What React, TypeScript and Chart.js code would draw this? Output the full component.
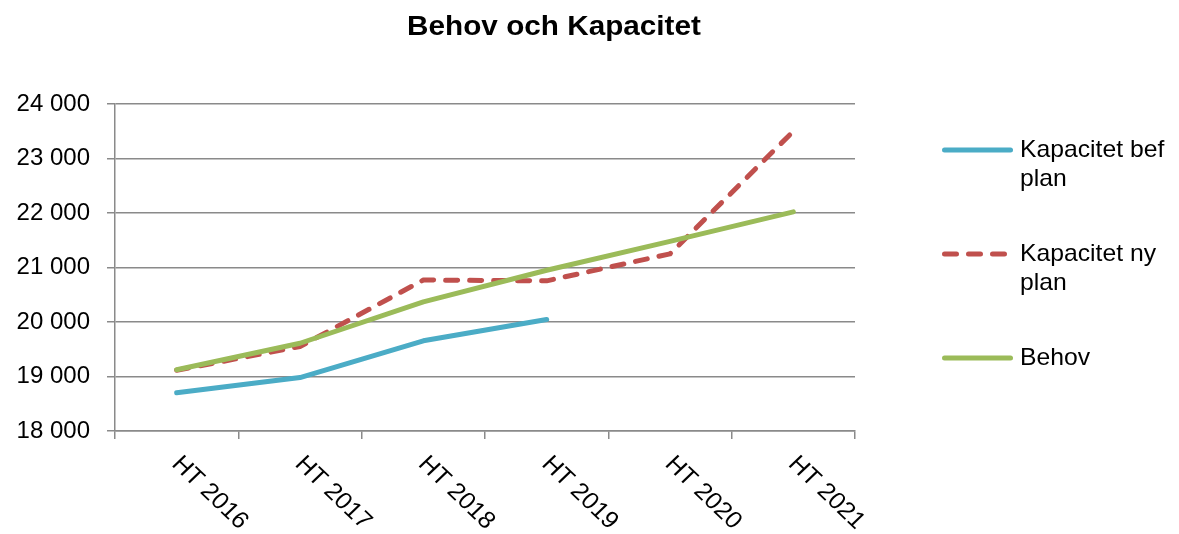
import React, { useEffect, useRef } from "react";
import { Chart, registerables } from "chart.js";

Chart.register(...registerables);

const chartTitle = "Behov och Kapacitet";
const categories = ["HT 2016", "HT 2017", "HT 2018", "HT 2019", "HT 2020", "HT 2021"];
const kapacitetBefPlan = [18700, 18980, 19655, 20045, null, null];
const kapacitetNyPlan = [19115, 19550, 20770, 20755, 21250, 23500];
const behov = [19125, 19610, 20370, 20950, 21480, 22020];
const seriesLabels = [["Kapacitet bef", "plan"], ["Kapacitet ny", "plan"], ["Behov"]];
const seriesColors = ["#4BACC6", "#C0504D", "#9BBB59"];
const yMin = 18000;
const yMax = 24000;
const yStep = 1000;

const FONT = '"Liberation Sans", Arial, Helvetica, sans-serif';
const GRID = "#8a8a8a";

const formatNum = (v: number) => String(v).replace(/\B(?=(\d{3})+(?!\d))/g, " ");

const textPlugin = {
  id: "customText",
  afterDraw(chart: any) {
    const ctx = chart.ctx as CanvasRenderingContext2D;
    const area = chart.chartArea;
    // Title
    ctx.save();
    ctx.fillStyle = "#000";
    ctx.translate(554, 35);
    ctx.scale(1.1, 1);
    ctx.font = `bold 27px ${FONT}`;
    ctx.textAlign = "center";
    ctx.textBaseline = "alphabetic";
    ctx.fillText(chartTitle, 0, 0);
    ctx.restore();

    // X labels (rotated)
    const xs = chart.scales.x;
    categories.forEach((c, i) => {
      const px = xs.getPixelForValue(i);
      ctx.save();
      ctx.fillStyle = "#000";
      ctx.translate(px - 6, area.bottom + 34);
      ctx.scale(1.05, 1);
      ctx.rotate(Math.PI / 4);
      ctx.font = `24px ${FONT}`;
      ctx.textAlign = "left";
      ctx.textBaseline = "alphabetic";
      ctx.fillText(c, 0, 0);
      ctx.restore();
    });

    // Legend
    chart.data.datasets.forEach((ds: any, i: number) => {
      const y = 150 + i * 104;
      ctx.save();
      ctx.strokeStyle = ds.borderColor;
      ctx.lineWidth = 5;
      ctx.lineCap = "round";
      if (ds.borderDash && ds.borderDash.length) ctx.setLineDash(ds.borderDash);
      ctx.beginPath();
      ctx.moveTo(944.5, y);
      ctx.lineTo(1010.5, y);
      ctx.stroke();
      ctx.restore();
      const lines = seriesLabels[i];
      lines.forEach((t, j) => {
        ctx.save();
        ctx.fillStyle = "#000";
        ctx.translate(1020, y + 7 + j * 28.5);
        ctx.scale(1.03, 1);
        ctx.font = `24px ${FONT}`;
        ctx.textAlign = "left";
        ctx.textBaseline = "alphabetic";
        ctx.fillText(t, 0, 0);
        ctx.restore();
      });
    });
  },
};

export default function App() {
  const ref = useRef<HTMLCanvasElement | null>(null);
  useEffect(() => {
    if (!ref.current) return;
    const lineBase = {
      borderWidth: 5,
      pointRadius: 0,
      pointHoverRadius: 0,
      tension: 0,
      fill: false,
      borderCapStyle: "round",
      borderJoinStyle: "round",
      spanGaps: false,
    };
    const chart = new Chart(ref.current, {
      type: "line",
      data: {
        labels: categories,
        datasets: [
          { ...lineBase, label: seriesLabels[0].join(" "), data: kapacitetBefPlan, borderColor: seriesColors[0], backgroundColor: seriesColors[0], order: 2 },
          { ...lineBase, label: seriesLabels[1].join(" "), data: kapacitetNyPlan, borderColor: seriesColors[1], backgroundColor: seriesColors[1], borderDash: [12, 12], borderCapStyle: "round", order: 1 },
          { ...lineBase, label: seriesLabels[2].join(" "), data: behov, borderColor: seriesColors[2], backgroundColor: seriesColors[2], order: 0 },
        ] as any,
      },
      options: {
        responsive: false,
        animation: false,
        events: [],
        layout: { padding: { left: 0, right: 324, top: 104, bottom: 0 } },
        plugins: { legend: { display: false }, title: { display: false }, tooltip: { enabled: false } },
        scales: {
          x: {
            type: "category",
            offset: true,
            grid: { display: true, drawOnChartArea: false, drawTicks: true, tickLength: 8, color: GRID, lineWidth: 1.5, offset: true },
            border: { display: true, color: GRID, width: 1.5 },
            ticks: { display: false },
            afterFit: (s: any) => { s.height = 103; },
          },
          y: {
            min: yMin,
            max: yMax,
            grid: { display: true, drawOnChartArea: true, drawTicks: true, tickLength: 8, color: GRID, lineWidth: 1.5 },
            border: { display: true, color: GRID, width: 1.5 },
            ticks: {
              stepSize: yStep,
              padding: 17,
              color: "#000",
              font: { family: FONT, size: 24 },
              callback: (v: any) => formatNum(Number(v)),
            },
            afterFit: (s: any) => { s.width = 115; },
          },
        },
      } as any,
      plugins: [textPlugin],
    });
    return () => chart.destroy();
  }, []);
  return (
    <div style={{ position: "absolute", left: 0, top: 0, width: 1179, height: 534, background: "#fff" }}>
      <canvas ref={ref} width={1179} height={534} style={{ display: "block", width: 1179, height: 534 }} />
    </div>
  );
}
